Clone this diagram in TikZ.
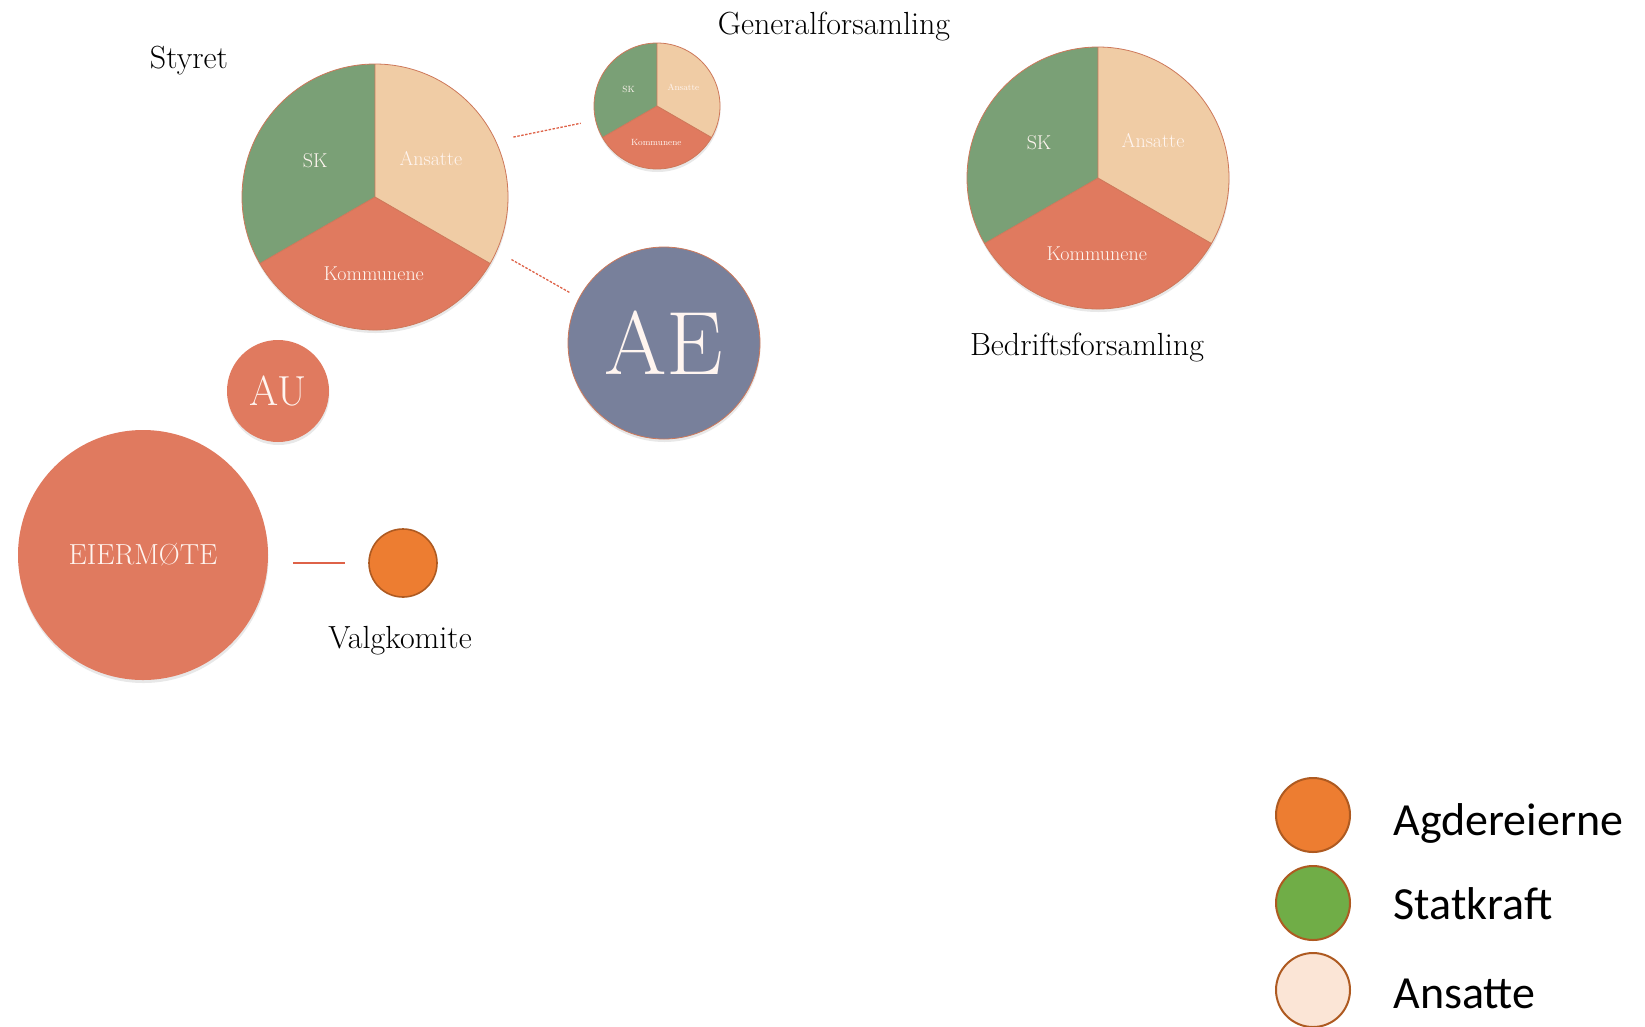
\documentclass[tikz,border=0pt]{standalone}
\usepackage{fontspec}
\usepackage{tikz}
\usetikzlibrary{shadows, calc}
\newfontfamily\legendfont{Carlito}
\definecolor{skgreen}{RGB}{122, 160, 118}
\definecolor{peach}{RGB}{240, 204, 165}
\definecolor{coral}{RGB}{224, 122, 95}
\definecolor{slate}{RGB}{120, 128, 155}
\definecolor{agder}{RGB}{237, 125, 49}
\definecolor{statgreen}{RGB}{112, 173, 71}
\definecolor{ansattelys}{RGB}{251, 229, 214}
\definecolor{rim}{RGB}{174, 90, 33}
\definecolor{pierim}{RGB}{205, 120, 90}
\definecolor{linkred}{RGB}{222, 98, 72}
\definecolor{offwhite}{RGB}{255, 245, 240}
% pie with three equal parts: centre node, radius, label size
\newcommand{\threepie}[3]{%
  \fill[skgreen] (#1.center) -- ++(90:#2) arc (90:210:#2) -- cycle;
  \fill[peach] (#1.center) -- ++(-30:#2) arc (-30:90:#2) -- cycle;
  \fill[coral] (#1.center) -- ++(210:#2) arc (210:330:#2) -- cycle;
  \draw[pierim, line width=0.8pt] (#1.center) -- ++(90:#2)
    (#1.center) -- ++(210:#2) (#1.center) -- ++(-30:#2)
    (#1.center) circle (#2);
  \path (#1.center) ++({-0.45*#2}, {0.27*#2}) node[pielabel, font=\fontsize{#3}{#3}\selectfont] {SK}
        (#1.center) ++({0.42*#2}, {0.29*#2}) node[pielabel, font=\fontsize{#3}{#3}\selectfont] {Ansatte}
        (#1.center) ++({-0.01*#2}, {-0.58*#2}) node[pielabel, font=\fontsize{#3}{#3}\selectfont] {Kommunene};
}

\begin{document}
\begin{tikzpicture}[x=1pt, y=1pt,
    pienode/.style={circle, inner sep=0pt, fill=white,
      drop shadow={shadow xshift=0.5pt, shadow yshift=-3pt, opacity=0.18}},
    pielabel/.style={text=offwhite},
    blob/.style={circle, inner sep=0pt, fill=coral, text=offwhite,
      drop shadow={shadow xshift=0.5pt, shadow yshift=-3pt, opacity=0.18}},
    legdot/.style={circle, inner sep=0pt, minimum size=74pt, draw=rim, line width=2pt},
    legtext/.style={anchor=base west, font=\legendfont\fontsize{46}{50}\selectfont},
    title/.style={font=\fontsize{32}{36}\selectfont},
    dashlink/.style={linkred, line width=1.3pt, dash pattern=on 2.5pt off 1.5pt},
  ]
  \useasboundingbox (0, 0) rectangle (1645, -1026);

  % pies
  \node[pienode, minimum size=266pt] (styretpie) at (375, -197) {};
  \threepie{styretpie}{133}{20}
  \node[pienode, minimum size=126pt] (genpie) at (657, -106) {};
  \threepie{genpie}{63}{9}
  \node[pienode, minimum size=262pt] (bedpie) at (1098, -178) {};
  \threepie{bedpie}{131}{20}

  \node[title] (styret) at (189, -61) {Styret};
  \node[title] (general) at (834, -27) {Generalforsamling};
  \node[title] (bedrift) at (1087, -348) {Bedriftsforsamling};

  % circles
  \node[blob, fill=slate, draw=pierim, line width=0.8pt, minimum size=192pt,
    font=\fontsize{90}{94}\selectfont] (ae) at (664, -343) {AE};
  \node[blob, minimum size=102pt, font=\fontsize{42}{46}\selectfont] (au) at (278, -391) {AU};
  \node[blob, minimum size=250pt, font=\fontsize{29}{32}\selectfont] (eier) at (143, -555) {EIERMØTE};
  \node[circle, inner sep=0pt, minimum size=68pt, fill=agder, draw=rim, line width=1.6pt] (valg) at (403, -563) {};
  \node[font=\fontsize{32}{36}\selectfont] (valgtxt) at (400, -641) {Valgkomite};

  \draw[dashlink, shorten <=18pt, shorten >=15pt] (styretpie.25) -- (genpie.193);
  \draw[dashlink, shorten <=17pt, shorten >=10pt] (styretpie.-24) -- (ae.152);
  \draw[linkred, line width=2.5pt, shorten <=25pt, shorten >=23pt] (valg.west -| eier.east) -- (valg.west);

  % legend
  \node[legdot, fill=agder] (legagder) at (1313, -815) {};
  \node[legdot, fill=statgreen] (legstat) at (1313, -903) {};
  \node[legdot, fill=ansattelys] (legans) at (1313, -990) {};
  \node[legtext] at (1390, -835) {Agdereierne};
  \node[legtext] at (1390, -919) {Statkraft};
  \node[legtext] at (1390, -1008) {Ansatte};
\end{tikzpicture}
\end{document}
